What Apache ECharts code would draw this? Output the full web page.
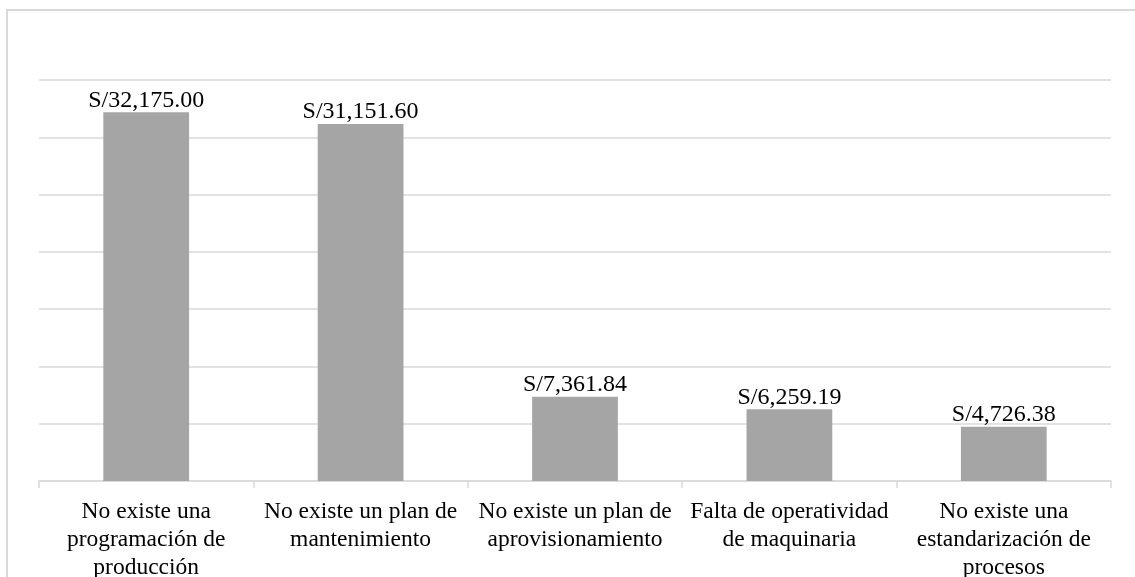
<!DOCTYPE html>
<html>
<head>
<meta charset="utf-8">
<style>
  html, body { margin: 0; padding: 0; background: #ffffff; }
  #chart { width: 1135px; height: 577px; }
</style>
<script src="https://cdn.jsdelivr.net/npm/echarts@6/dist/echarts.min.js"></script>
</head>
<body>
<div id="chart"></div>
<script>
// Causas y su costo asociado (soles)
const categories = [
  'No existe una\nprogramación de\nproducción',
  'No existe un plan de\nmantenimiento',
  'No existe un plan de\naprovisionamiento',
  'Falta de operatividad\nde maquinaria',
  'No existe una\nestandarización de\nprocesos'
];
const costos = [32175.00, 31151.60, 7361.84, 6259.19, 4726.38];

const yMin = 0;
const yMax = 35000;
const yInterval = 5000;

function soles(v) {
  return 'S/' + v.toLocaleString('en-US', { minimumFractionDigits: 2, maximumFractionDigits: 2 });
}

const serif = '"Liberation Serif", "Times New Roman", serif';
const chart = echarts.init(document.getElementById('chart'), null, { renderer: 'canvas' });

chart.setOption({
  animation: false,
  backgroundColor: '#ffffff',
  graphic: [{
    // outer chart frame
    type: 'rect',
    shape: { x: 7, y: 10, width: 1200, height: 620 },
    style: { fill: 'none', stroke: '#d9d9d9', lineWidth: 2 },
    silent: true
  }],
  grid: {
    left: 39, right: 24, top: 80, bottom: 96,
    containLabel: false,
    outerBoundsMode: 'none'
  },
  xAxis: {
    type: 'category',
    data: categories,
    axisLine: { show: true, lineStyle: { color: '#d9d9d9', width: 1.5 } },
    axisTick: { show: true, alignWithLabel: false, length: 7, lineStyle: { color: '#d9d9d9', width: 1.5 } },
    axisLabel: {
      interval: 0,
      margin: 17,
      color: '#000000',
      fontFamily: serif,
      fontSize: 23.5,
      lineHeight: 28
    },
    splitLine: { show: false }
  },
  yAxis: {
    type: 'value',
    min: yMin,
    max: yMax,
    interval: yInterval,
    axisLine: { show: false },
    axisTick: { show: false },
    axisLabel: { show: false },
    splitLine: { show: true, lineStyle: { color: '#d9d9d9', width: 1.5 } }
  },
  series: [{
    type: 'bar',
    data: costos,
    barWidth: '40%',
    itemStyle: { color: '#a5a5a5' },
    label: {
      show: true,
      position: 'top',
      distance: 0,
      color: '#000000',
      fontFamily: serif,
      fontSize: 24,
      formatter: p => soles(p.value)
    }
  }]
});
</script>
</body>
</html>
